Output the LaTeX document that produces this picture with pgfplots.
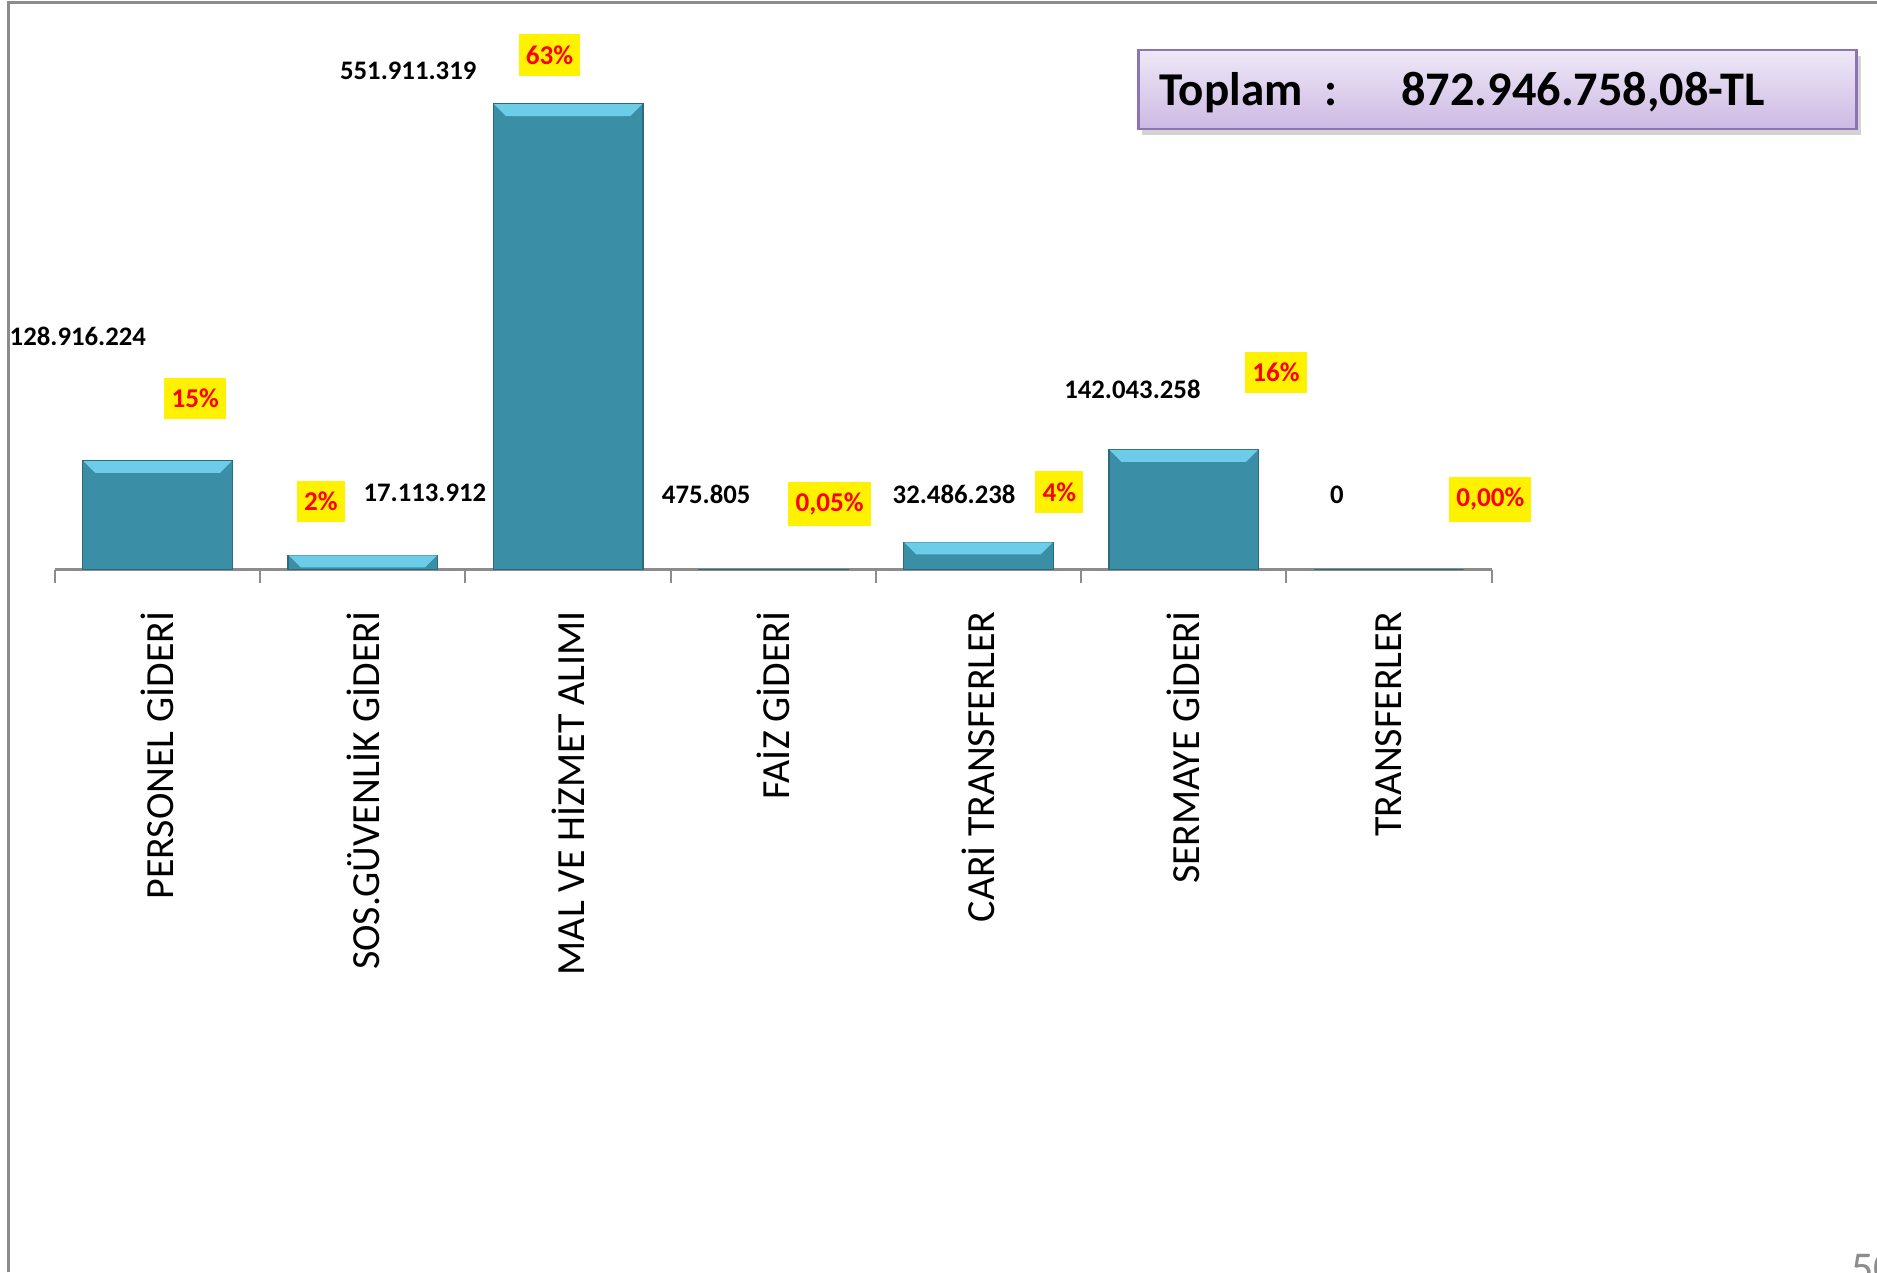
\documentclass[border=0pt]{standalone}
\usepackage{pgfplots}
\pgfplotsset{compat=1.18}
\usepackage{pgfplotstable}
\usepackage{fontspec}
\setmainfont{Carlito}
\usetikzlibrary{shadows}

\definecolor{barc}{HTML}{3A8FA7}
\definecolor{barhi}{HTML}{6DCDE9}
\definecolor{bardk}{HTML}{2C6B7D}
\definecolor{framegray}{HTML}{8C8C8C}
\definecolor{boxtop}{HTML}{EEE8F7}
\definecolor{boxbot}{HTML}{CDB9E3}
\definecolor{boxedge}{HTML}{8E72B5}

% giderler, milyon TL
\pgfplotstableread{
x y
0 128.916224
1 17.113912
2 551.911319
3 0.475805
4 32.486238
5 142.043258
6 0
}\giderler

% light bevel on top of each bar
\pgfdeclareplotmark{bevel}{%
  \pgfpathmoveto{\pgfpoint{-18.6pt}{0pt}}%
  \pgfpathlineto{\pgfpoint{18.6pt}{0pt}}%
  \pgfpathlineto{\pgfpoint{15.6pt}{-3pt}}%
  \pgfpathlineto{\pgfpoint{-15.6pt}{-3pt}}%
  \pgfpathclose\pgfusepathqfill}

\tikzset{
  val/.style={font=\fontsize{6.7}{8}\selectfont\bfseries, inner sep=0pt},
  pct/.style={fill=yellow, text=red, font=\fontsize{6.8}{8}\selectfont\bfseries,
    inner xsep=1.8pt, inner ysep=2.8pt},
}

\begin{document}
\begin{tikzpicture}[x=0.3pt,y=0.3pt]
% slide frame
\draw[framegray, line width=0.75pt] (7,0) -- (7,1061) -- (1568,1061);

\begin{axis}[
  at={(13.8pt,176.1pt)}, anchor=south west,
  scale only axis, width=360pt, height=126.9pt,
  xmin=-0.5, xmax=6.5, ymin=0, ymax=600,
  axis x line*=bottom, axis y line=none,
  x axis line style={-, draw=framegray, line width=0.75pt},
  xtick={0,...,6}, major tick length=0pt,
  minor xtick={-0.5,0.5,...,6.5}, minor tick length=3.3pt,
  tick align=outside,
  every tick/.style={draw=framegray, line width=0.5pt},
  xticklabels={PERSONEL GİDERİ, SOS.GÜVENLİK GİDERİ, MAL VE HİZMET ALIMI, FAİZ GİDERİ, CARİ TRANSFERLER, SERMAYE GİDERİ, TRANSFERLER},
  xticklabel style={rotate=90, anchor=east, font=\fontsize{10}{12}\selectfont, inner sep=0pt},
  xticklabel shift=10.2pt,
  clip=false,
]
\addplot[ybar, bar width=37.5pt, bar shift=0pt, fill=barc, draw=bardk, line width=0.3pt]
  table[x=x,y=y]{\giderler};
\addplot[only marks, mark=bevel, mark options={fill=barhi, draw=none},
  restrict y to domain=1:1000] table[x=x,y=y]{\giderler};

\node[val] at (axis cs:-0.389,276.7) {128.916.224};
\node[pct] at (axis cs:0.183,202.9) {15\%};
\node[pct] at (axis cs:0.795,80.9) {2\%};
\node[val] at (axis cs:1.302,90.8) {17.113.912};
\node[val] at (axis cs:1.221,591.7) {551.911.319};
\node[pct] at (axis cs:1.909,610.1) {63\%};
\node[val] at (axis cs:2.673,89.4) {475.805};
\node[pct] at (axis cs:3.274,78.0) {0,05\%};
\node[val] at (axis cs:3.881,89.4) {32.486.238};
\node[pct] at (axis cs:4.394,92.2) {4\%};
\node[val] at (axis cs:4.750,214.2) {142.043.258};
\node[pct] at (axis cs:5.450,234.1) {16\%};
\node[val] at (axis cs:5.747,89.4) {0};
\node[pct] at (axis cs:6.494,83.7) {0,00\%};
\end{axis}

% total box
\shade[top color=boxtop, bottom color=boxbot, draw=boxedge, line width=0.6pt,
  drop shadow={shadow xshift=1pt, shadow yshift=-1.5pt, opacity=0.35}]
  (951,1021) rectangle (1551,955);
\node[anchor=base west, inner sep=0pt, font=\fontsize{11.8}{14}\selectfont\bfseries]
  at (968,975) {Toplam\hspace{5.5pt}:\hspace{16pt}{\fontsize{12.1}{14}\selectfont 872.946.758,08-TL}};

% page number (cut off at the edge)
\node[anchor=north west, inner sep=0pt, text=framegray, font=\fontsize{11}{13}\selectfont]
  at (1546,16) {50};

\pgfresetboundingbox
\useasboundingbox (0,0) rectangle (1568,1063);
\end{tikzpicture}
\end{document}
